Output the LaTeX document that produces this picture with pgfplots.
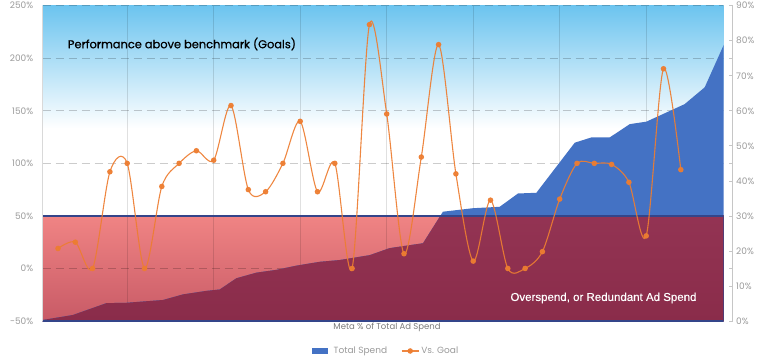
\documentclass[border=0pt]{standalone}
\usepackage{pgfplots}
\pgfplotsset{compat=1.18}
\usepackage{fontspec}
\setmainfont{Poppins}
\newfontfamily\poppinsmed{Poppins}[FakeBold=0.5]
\newfontfamily\arialfont{Liberation Sans}[FakeBold=0.3]
\definecolor{skytop}{HTML}{6CC4EF}
\definecolor{pinktop}{HTML}{F08484}
\definecolor{pinkbot}{HTML}{C85A66}
\definecolor{maroontop}{HTML}{A24062}
\definecolor{maroonbot}{HTML}{8A2C4A}
\definecolor{spendblue}{HTML}{4472C4}
\definecolor{boxblue}{HTML}{34458A}
\definecolor{goalorange}{HTML}{ED7D31}
\definecolor{ticktext}{HTML}{9A9A9A}
\begin{document}
\begin{tikzpicture}
% ---------- right axis: total spend (Meta % of total ad spend) ----------
\begin{axis}[
  at={(0pt,0pt)}, anchor=south west,
  scale only axis, width=681pt, height=315.3pt,
  xmin=-0.885, xmax=38.48, ymin=0, ymax=90,
  axis x line=none,
  axis y line*=right,
  axis y line shift=9pt,
  y axis line style={draw=gray!45, line width=0.7pt, -},
  ytick={0,10,...,90},
  extra y ticks={15,45,75},
  extra y tick labels={},
  tick align=inside,
  major tick length=4pt,
  tick style={draw=gray!45, line width=0.7pt},
  yticklabel={\pgfmathprintnumber[assume math mode=true]{\tick}\%},
  yticklabel style={font=\fontsize{9}{10}\selectfont, text=ticktext},
]
\fill[top color=skytop, bottom color=white] (axis cs:-0.885,55) rectangle (axis cs:38.48,90);
\fill[top color=pinktop, bottom color=pinkbot] (axis cs:-0.885,0) rectangle (axis cs:38.48,30);
\foreach \gx in {4,9,14,19,24,29,34}{
  \edef\temp{\noexpand\draw[black, opacity=0.12, line width=0.7pt] (axis cs:\gx,0) -- (axis cs:\gx,90);}\temp
}
\foreach \gy in {15,45,60,75,90}{
  \edef\temp{\noexpand\draw[black, opacity=0.2, line width=1.2pt, dash pattern=on 8pt off 5pt] (axis cs:-0.885,\gy) -- (axis cs:38.48,\gy);}\temp
}
\addplot[fill=spendblue, draw=none] coordinates {
(-0.885,0.3) (0.85,1.7) (2.80,5.1) (3.95,5.2) (6.07,6.0) (7.23,7.6) (8.58,8.6) (9.35,9.0)
(10.31,12.2) (11.47,13.8) (12.62,14.6) (13.78,15.8) (15.13,16.9) (16.28,17.4) (18.02,18.8)
(19.17,20.8) (21.10,22.2) (22.25,31.2) (23.99,32.2) (25.53,32.6) (26.59,36.4) (27.65,36.6)
(29.87,50.9) (30.83,52.4) (31.89,52.4) (33.05,56.2) (34.01,56.9) (36.22,61.9) (37.38,66.7)
(38.48,78.8)} \closedcycle;
\begin{scope}
\clip (axis cs:-0.885,0) rectangle (axis cs:38.48,30);
\addplot[top color=maroontop, bottom color=maroonbot, draw=none] coordinates {
(-0.885,0.3) (0.85,1.7) (2.80,5.1) (3.95,5.2) (6.07,6.0) (7.23,7.6) (8.58,8.6) (9.35,9.0)
(10.31,12.2) (11.47,13.8) (12.62,14.6) (13.78,15.8) (15.13,16.9) (16.28,17.4) (18.02,18.8)
(19.17,20.8) (21.10,22.2) (22.25,31.2) (23.99,32.2) (25.53,32.6) (26.59,36.4) (27.65,36.6)
(29.87,50.9) (30.83,52.4) (31.89,52.4) (33.05,56.2) (34.01,56.9) (36.22,61.9) (37.38,66.7)
(38.48,78.8)} \closedcycle;
\end{scope}
\draw[boxblue, line width=1.5pt] (axis cs:-0.885,0) rectangle (axis cs:38.48,30);
\end{axis}
% ---------- left axis: vs. goal ----------
\begin{axis}[
  at={(0pt,0pt)}, anchor=south west,
  scale only axis, width=681pt, height=315.3pt,
  xmin=-0.885, xmax=38.48, ymin=-50, ymax=250,
  axis x line=none,
  axis y line*=left,
  y axis line style={draw=gray!30, line width=0.6pt, -},
  ytick={-50,0,...,250},
  major tick length=0pt,
  yticklabel={\pgfmathprintnumber[assume math mode=true]{\tick}\%},
  yticklabel style={font=\fontsize{9}{10}\selectfont, text=ticktext, xshift=-6pt},
  legend style={at={(0.5045,-0.0951)}, anchor=center, draw=none, fill=none,
    legend columns=2, font=\fontsize{9}{10}\selectfont, text=ticktext,
    /tikz/every even column/.append style={column sep=12pt}},
  clip=false,
]
\addlegendimage{legend image code/.code={\fill[spendblue] (0pt,-2.3pt) rectangle (15pt,2.3pt); \path (19pt,0pt);}}
\addlegendentry{Total Spend}
\addplot[smooth, goalorange, opacity=0.92, line width=1.1pt, mark=*, mark size=2.2pt,
  mark options={fill=goalorange, draw=goalorange}] coordinates {
(0,19) (1,25) (2,0) (3,92) (4,100) (5,0) (6,78) (7,100) (8,112) (9,103) (10,155) (11,75)
(12,73) (13,100) (14,140) (15,73) (16,100) (17,0) (18,232) (19,147) (20,14) (21,106)
(22,213) (23,90) (24,7) (25,65) (26,0) (27,0) (28,16) (29,66) (30,100) (31,100) (32,99)
(33,82) (34,31) (35,190) (36,94)};
\addlegendentry{Vs. Goal}
\node[anchor=west, inner sep=0pt, font=\poppinsmed\fontsize{11.4}{12}\selectfont] at (axis cs:0.56,213.6) {Performance above benchmark (Goals)};
\node[anchor=east, inner sep=0pt, text=white, font=\arialfont\fontsize{11.5}{12}\selectfont] at (axis cs:36.92,-28.1) {Overspend, or Redundant Ad Spend};
\node[font=\fontsize{8.5}{9}\selectfont, text=ticktext!80!black] at (rel axis cs:0.5056,-0.0193) {Meta \% of Total Ad Spend};
\end{axis}
\pgfresetboundingbox
\path (-42.7pt,-36pt) rectangle (740.3pt,321pt);
\end{tikzpicture}
\end{document}
